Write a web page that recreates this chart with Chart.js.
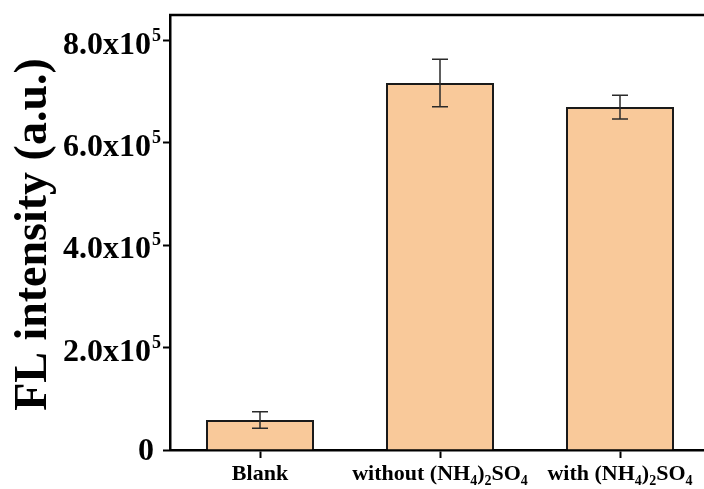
<!DOCTYPE html>
<html>
<head>
<meta charset="utf-8">
<script src="https://cdn.jsdelivr.net/npm/chart.js@4.4.1/dist/chart.umd.min.js"></script>
<style>
  html, body { margin: 0; padding: 0; background: #fff; overflow: hidden; }
  #wrap { width: 704px; height: 489px; overflow: hidden; }
  canvas { display: block; }
</style>
</head>
<body>
<div id="wrap"><canvas id="c" width="720" height="489"></canvas></div>
<script>
// ---- data ----
const categories = ['Blank', 'without (NH4)2SO4', 'with (NH4)2SO4'];
const values = [58500, 717000, 670000];
const errors = [16000, 46500, 23000];
const yTickValues = [0, 200000, 400000, 600000, 800000];
const yTickMantissa = ['0', '2.0x10', '4.0x10', '6.0x10', '8.0x10'];
const yTickExponent = ['', '5', '5', '5', '5'];
const yAxisTitle = 'FL intensity (a.u.)';

const FONT = '"Liberation Serif", "Times New Roman", serif';

// split a label into normal/subscript runs: a digit after a letter or ')' is a subscript
function chemRuns(s) {
  const runs = [];
  for (let i = 0; i < s.length; i++) {
    const ch = s[i];
    const sub = /[0-9]/.test(ch) && i > 0 && /[A-Za-z)]/.test(s[i - 1]);
    if (runs.length && runs[runs.length - 1].sub === sub) runs[runs.length - 1].t += ch;
    else runs.push({ t: ch, sub });
  }
  return runs;
}

const textPlugin = {
  id: 'textPlugin',
  afterDraw(chart) {
    const ctx = chart.ctx;
    const x = chart.scales.x, y = chart.scales.y;
    const area = chart.chartArea;
    ctx.save();

    // top frame line
    ctx.strokeStyle = '#000';
    ctx.lineWidth = 2.5;
    ctx.beginPath();
    ctx.moveTo(area.left - 1, area.top);
    ctx.lineTo(area.right, area.top);
    ctx.stroke();

    // error bars
    ctx.strokeStyle = '#2a2a2a';
    ctx.lineWidth = 1.5;
    values.forEach((v, i) => {
      const cx = x.getPixelForValue(i);
      const yt = y.getPixelForValue(v + errors[i]);
      const yb = y.getPixelForValue(v - errors[i]);
      ctx.beginPath();
      ctx.moveTo(cx, yt); ctx.lineTo(cx, yb);
      ctx.moveTo(cx - 8, yt); ctx.lineTo(cx + 8, yt);
      ctx.moveTo(cx - 8, yb); ctx.lineTo(cx + 8, yb);
      ctx.stroke();
    });

    ctx.fillStyle = '#000';
    // y tick labels
    yTickValues.forEach((v, i) => {
      const py = y.getPixelForValue(v);
      ctx.textBaseline = 'alphabetic';
      if (yTickExponent[i]) {
        ctx.font = 'bold 32px ' + FONT;
        ctx.textAlign = 'right';
        ctx.fillText(yTickMantissa[i], 151, py + 13);
        ctx.font = 'bold 18px ' + FONT;
        ctx.textAlign = 'left';
        ctx.fillText(yTickExponent[i], 152, py + 0);
      } else {
        ctx.font = 'bold 32px ' + FONT;
        ctx.textAlign = 'right';
        ctx.fillText(yTickMantissa[i], 154, py + 10);
      }
    });

    // x tick labels with subscripts
    categories.forEach((lab, i) => {
      const cx = x.getPixelForValue(i);
      const runs = chemRuns(lab);
      let w = 0;
      runs.forEach(r => {
        ctx.font = (r.sub ? 'bold 14px ' : 'bold 22px ') + FONT;
        r.w = ctx.measureText(r.t).width;
        w += r.w;
      });
      let px = cx - w / 2;
      ctx.textAlign = 'left';
      ctx.textBaseline = 'alphabetic';
      runs.forEach(r => {
        ctx.font = (r.sub ? 'bold 14px ' : 'bold 22px ') + FONT;
        ctx.fillText(r.t, px, r.sub ? 485 : 480);
        px += r.w;
      });
    });

    // y axis title
    ctx.save();
    ctx.translate(46, (area.top + area.bottom) / 2 + 2);
    ctx.rotate(-Math.PI / 2);
    ctx.font = 'bold 46px ' + FONT;
    ctx.textAlign = 'center';
    ctx.textBaseline = 'alphabetic';
    ctx.fillText(yAxisTitle, 0, 0);
    ctx.restore();

    ctx.restore();
  }
};

new Chart(document.getElementById('c'), {
  type: 'bar',
  data: {
    labels: categories,
    datasets: [{
      data: values,
      backgroundColor: '#F9C99A',
      borderColor: '#1a1a1a',
      borderWidth: 2,
      borderSkipped: 'start',
      barPercentage: 0.6,
      categoryPercentage: 1.0
    }]
  },
  options: {
    responsive: false,
    animation: false,
    devicePixelRatio: 1,
    layout: { padding: { left: 150, right: 10, top: 15, bottom: 19 } },
    plugins: { legend: { display: false }, tooltip: { enabled: false } },
    scales: {
      x: {
        type: 'category',
        offset: true,
        ticks: { display: false },
        grid: { display: true, offset: false, drawOnChartArea: false, drawTicks: true, tickLength: 8, tickWidth: 2, tickColor: '#000' },
        border: { display: true, color: '#000', width: 2.5 },
        afterFit(s) { s.height = 20; }
      },
      y: {
        min: 0,
        max: 850000,
        bounds: 'data',
        afterBuildTicks(s) { s.ticks = yTickValues.map(v => ({ value: v })); },
        ticks: { display: false },
        grid: { display: true, drawOnChartArea: false, drawTicks: true, tickLength: 7, tickWidth: 2, tickColor: '#000' },
        border: { display: true, color: '#000', width: 2.5 },
        afterFit(s) { s.width = 20; }
      }
    }
  },
  plugins: [textPlugin]
});
</script>
</body>
</html>
